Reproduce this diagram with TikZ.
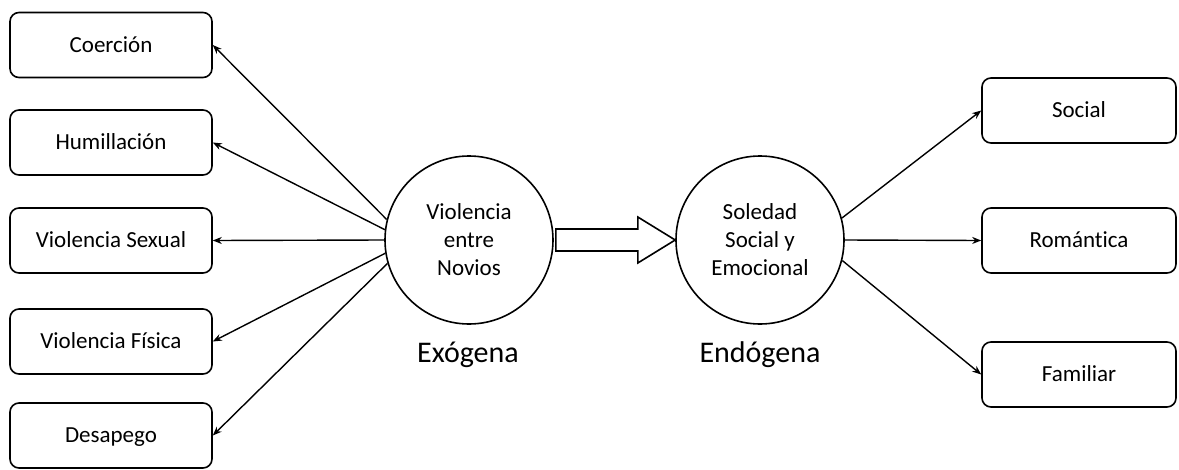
\documentclass[tikz,border=0pt]{standalone}
\usepackage{fontspec}
\setmainfont{Carlito}[Ligatures=NoCommon]
\usetikzlibrary{arrows.meta,calc}
\begin{document}
\begin{tikzpicture}[x=1pt,y=-1pt,
 box/.style={draw, rounded corners=9pt, line width=1.6pt, minimum width=202pt, minimum height=65pt,
   font=\fontsize{23}{28}\selectfont, text height=14.8pt, text depth=0pt, inner sep=0pt},
 rbox/.style={box, minimum width=194pt},
 circ/.style={draw, circle, minimum size=168pt, line width=1.6pt, inner sep=0pt, align=center,
   font=\fontsize{23}{28}\selectfont},
 conn/.style={line width=1.4pt, -{Stealth[length=9pt,width=7pt]}},
 blk/.style={draw, line width=1.6pt, line join=miter},
 side/.style={font=\fontsize{30}{36}\selectfont, anchor=base, inner sep=0pt}
]
\useasboundingbox (0,0) rectangle (1179,469);

\node[box] (coe) at (111,45) {Coerción};
\node[box] (hum) at (111,142.5) {Humillación};
\node[box] (vs) at (111,240.5) {Violencia Sexual};
\node[box] (vf) at (111,341.5) {Violencia Física};
\node[box] (des) at (111,435.5) {Desapego};

\node[circ] (vn) at (469,240) {Violencia\\entre\\Novios};
\node[circ] (sol) at (760,240) {Soledad\\Social y\\Emocional};

\node[rbox] (soc) at (1079,110.5) {Social};
\node[rbox] (rom) at (1079,240.5) {Romántica};
\node[rbox] (fam) at (1079,374.5) {Familiar};

\node[side] (exo) at (468,362) {Exógena};
\node[side] (endo) at (760,362) {Endógena};

\draw[conn] (vn.166) -- (coe.east);
\draw[conn] (vn.173) -- (hum.east);
\draw[conn] (vn.180) -- (vs.east);
\draw[conn] (vn.189) -- (vf.east);
\draw[conn] (vn.196) -- (des.east);

\draw[conn] (sol.15) -- (soc.west);
\draw[conn] (sol.0) -- (rom.west);
\draw[conn] (sol.-14) -- (fam.west);

\path (vn.east) ++(2,0) coordinate (bs);
\draw[blk] (bs) ++(0,-11) -- ++(82,0) -- ++(0,-12) -- (sol.west) -- ($(bs)+(82,23)$) -- ++(0,-12) -- ++(-82,0) -- cycle;
\end{tikzpicture}
\end{document}
